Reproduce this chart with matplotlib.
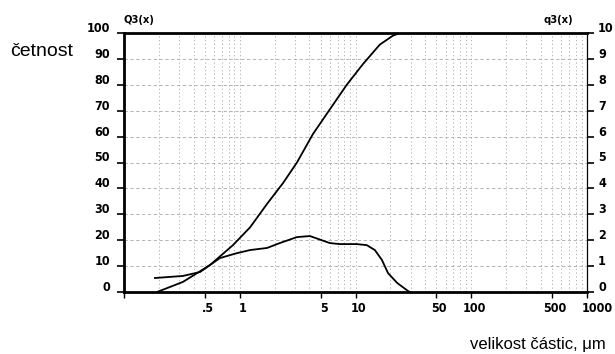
import matplotlib
matplotlib.use("Agg")
import matplotlib.pyplot as plt
import matplotlib.transforms as mtransforms
import numpy as np

# cumulative distribution Q3(x), left axis (%)
cum_x = [0.193, 0.323, 0.553, 0.874, 1.23, 1.72, 2.36, 3.12, 4.29, 6.0, 8.4, 11.6, 16.2, 21.1, 24.3, 1000.0]
cum_y = [0.0, 3.9, 10.4, 18.1, 25.0, 34.0, 42.0, 50.0, 61.0, 70.5, 80.0, 88.0, 95.5, 99.0, 100.0, 100.0]

# density distribution q3(x), right axis
dens_x = [0.185, 0.323, 0.453, 0.674, 0.945, 1.23, 1.72, 2.22, 3.12, 4.04, 6.0, 7.3, 10.2, 12.5, 14.7, 16.9, 19.1, 22.9, 28.4, 29.5]
dens_y = [0.54, 0.62, 0.77, 1.31, 1.50, 1.62, 1.70, 1.89, 2.12, 2.16, 1.89, 1.85, 1.85, 1.81, 1.62, 1.24, 0.73, 0.35, 0.04, 0.0]

x_ticks = [0.1, 0.5, 1, 5, 10, 50, 100, 500, 1000]
x_labels = ["", ".5", "1", "5", "10", "50", "100", "500", "1000"]
left_ticks = list(range(0, 101, 10))
right_ticks = list(range(0, 11))

tick_font = dict(family="DejaVu Sans", stretch="condensed", weight="bold", size=9)

fig = plt.figure(figsize=(6.15, 3.54), dpi=100)
ax = fig.add_axes([124 / 615, 1 - 292 / 354, 463 / 615, 259 / 354])
ax.set_xscale("log")
ax.set_xlim(0.1, 1000)
ax.set_ylim(0, 100)

# grid
ax.set_yticks(left_ticks)
for v in left_ticks[1:-1]:
    ax.axhline(v, color="#a8a8a8", lw=0.6, ls=(0, (4, 3)), zorder=0)
for dec in [0.1, 1, 10, 100]:
    for m in range(1, 10):
        v = dec * m
        if 0.1 < v < 1000:
            ax.axvline(v, color="#a8a8a8", lw=0.6, ls=(0, (1.5, 3)), zorder=0)

ax.plot(cum_x, cum_y, color="black", lw=1.3, zorder=3)

ax2 = ax.twinx()
ax2.set_ylim(0, 10)
ax2.set_yticks(right_ticks)
ax2.plot(dens_x, dens_y, color="black", lw=1.3, zorder=3)

ax.set_xticks(x_ticks)
ax.set_xticklabels(x_labels)
ax.xaxis.set_minor_locator(matplotlib.ticker.NullLocator())
ax.tick_params(axis="x", direction="out", length=4, width=1, pad=3)
ax.tick_params(axis="y", direction="out", length=5, width=1.2, pad=5)
ax2.tick_params(axis="y", direction="out", length=5, width=1.2, pad=3)

for lab in ax.get_xticklabels() + ax.get_yticklabels() + ax2.get_yticklabels():
    lab.set_fontproperties(matplotlib.font_manager.FontProperties(**tick_font))
up = mtransforms.ScaledTranslation(0, 6 / 100, fig.dpi_scale_trans)
for lab in ax.get_yticklabels() + ax2.get_yticklabels():
    lab.set_transform(lab.get_transform() + up)
right_shift = mtransforms.ScaledTranslation(3 / 100, 0, fig.dpi_scale_trans)
for lab in ax.get_xticklabels()[:-1]:
    lab.set_transform(lab.get_transform() + right_shift)
last = ax.get_xticklabels()[-1]
last.set_horizontalalignment("right")
last.set_transform(last.get_transform() + mtransforms.ScaledTranslation(26 / 100, 0, fig.dpi_scale_trans))

for s in ["left", "top", "bottom"]:
    ax.spines[s].set_linewidth(2)
ax.spines["right"].set_linewidth(0.8)
ax2.spines["left"].set_visible(False)
ax2.spines["top"].set_visible(False)
ax2.spines["bottom"].set_visible(False)
ax2.spines["right"].set_linewidth(0.8)

small = dict(family="DejaVu Sans", stretch="condensed", weight="bold", size=8)
fig.text(124 / 615, 1 - 20 / 354, "Q3(x)", fontproperties=matplotlib.font_manager.FontProperties(**small), ha="left", va="center")
fig.text(573 / 615, 1 - 20 / 354, "q3(x)", fontproperties=matplotlib.font_manager.FontProperties(**small), ha="right", va="center")
fig.text(10 / 615, 1 - 52 / 354, "četnost", fontsize=14, family="Liberation Sans", ha="left", va="center")
fig.text(470 / 615, 1 - 345 / 354, "velikost částic, μm", fontsize=12, family="Liberation Sans", ha="left", va="center")

fig.savefig("out.png", dpi=100)
